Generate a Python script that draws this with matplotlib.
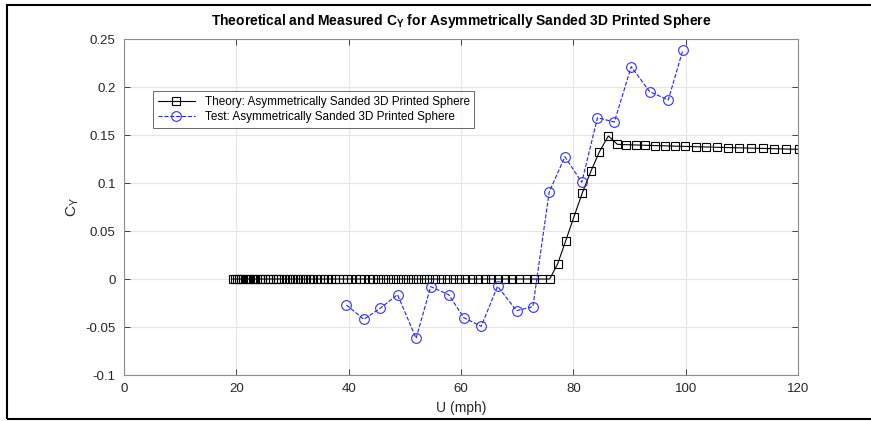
import numpy as np
import matplotlib
matplotlib.use("Agg")
import matplotlib.pyplot as plt
from matplotlib.patches import Rectangle

plt.rcParams['font.family'] = ['Liberation Sans', 'DejaVu Sans']
plt.rcParams['mathtext.fontset'] = 'custom'
plt.rcParams['mathtext.rm'] = 'Liberation Sans'

# Theory curve (speed in mph, side force coefficient)
theory_u = [19.38, 19.74, 20.11, 20.48, 20.86, 21.25, 21.65, 22.05, 22.46, 22.88,
            23.30, 23.73, 24.18, 24.63, 25.08, 25.55, 26.03, 26.51, 27.00, 27.50,
            28.02, 28.54, 29.07, 29.61, 30.16, 30.72, 31.29, 31.87, 32.47, 33.07,
            33.69, 34.31, 34.95, 35.60, 36.26, 36.94, 37.62, 38.32, 39.04, 39.76,
            40.50, 41.26, 42.02, 42.81, 43.60, 44.41, 45.24, 46.08, 46.94, 47.81,
            48.70, 49.60, 50.53, 51.47, 52.42, 53.40, 54.39, 55.40, 56.44, 57.49,
            58.55, 59.64, 60.75, 61.88, 63.03, 64.21, 65.40, 66.62, 67.85, 69.12,
            70.40, 71.71, 73.05, 74.40, 75.79, 77.20, 78.63, 80.10, 81.59, 83.11,
            84.65, 86.23, 87.83, 89.46, 91.13, 92.82, 94.55, 96.31, 98.10, 99.92,
            101.78, 103.68, 105.60, 107.57, 109.57, 111.61, 113.68, 115.80, 117.95, 120.15]
theory_cy = [0.0] * 75 + [0.0156, 0.0396, 0.0646, 0.0896, 0.112, 0.1326, 0.149,
                          0.1403, 0.1399, 0.1396, 0.1393, 0.1390, 0.1387, 0.1384,
                          0.1381, 0.1378, 0.1375, 0.1372, 0.1369, 0.1366, 0.1363,
                          0.1360, 0.1357, 0.1354, 0.1351]

# Wind tunnel test points
test_u = [39.6, 42.7, 45.6, 48.7, 52.0, 54.6, 57.8, 60.5, 63.6, 66.5, 69.9, 72.8,
          75.7, 78.5, 81.5, 84.3, 87.3, 90.3, 93.6, 96.9, 99.5]
test_cy = [-0.0271, -0.042, -0.0306, -0.0163, -0.0618, -0.008, -0.0163, -0.0403,
           -0.0493, -0.0076, -0.033, -0.0288, 0.0906, 0.1274, 0.1007, 0.168,
           0.1635, 0.2212, 0.1951, 0.1865, 0.2385]

fig = plt.figure(figsize=(8.71, 4.21), dpi=100)
ax = fig.add_axes([124 / 871, 46 / 421, 674 / 871, 336 / 421])

ax.plot(theory_u, theory_cy, color='black', lw=0.8, marker='s', ms=6,
        mfc='none', mec='black', mew=0.8,
        label='Theory: Asymmetrically Sanded 3D Printed Sphere')
ax.plot(test_u, test_cy, color='#2020ff', lw=0.8, ls='--', marker='o', ms=7,
        mfc='none', mec='#3030ff', mew=0.8,
        label='Test: Asymmetrically Sanded 3D Printed Sphere')

ax.set_xlim(0, 120)
ax.set_ylim(-0.1, 0.25)
ax.set_xticks([0, 20, 40, 60, 80, 100, 120])
ax.set_yticks([-0.1, -0.05, 0, 0.05, 0.1, 0.15, 0.2, 0.25])
ax.set_yticklabels(['-0.1', '-0.05', '0', '0.05', '0.1', '0.15', '0.2', '0.25'])
ax.grid(True, color='#e6e6e6', lw=0.8)
ax.set_axisbelow(True)
ax.tick_params(direction='in', top=True, right=True, length=4, width=0.6,
               colors='#262626', labelsize=9.5, pad=6)
for s in ax.spines.values():
    s.set_color('#8c8c8c')
    s.set_linewidth(0.8)

ax.set_xlabel('U (mph)', fontsize=10, color='#262626', labelpad=4)
ax.set_ylabel(r'C$_{\mathregular{Y}}$', fontsize=11, color='#262626', labelpad=3)
ax.set_title(r'Theoretical and Measured C$_{\mathregular{Y}}$ for Asymmetrically Sanded 3D Printed Sphere',
             fontsize=10, fontweight='bold', pad=10)

leg = ax.legend(loc='upper left', bbox_to_anchor=(0.034, 0.862), fontsize=8.5,
                frameon=True, fancybox=False, edgecolor='#262626',
                handlelength=3.2, borderpad=0.4, labelspacing=0.25)
leg.get_frame().set_linewidth(0.6)

# outer screenshot frame
fig.patches.append(Rectangle((7, 2), 900, 414, transform=None, fill=False,
                             edgecolor='black', lw=1.5))

fig.savefig('out.png', dpi=100)
